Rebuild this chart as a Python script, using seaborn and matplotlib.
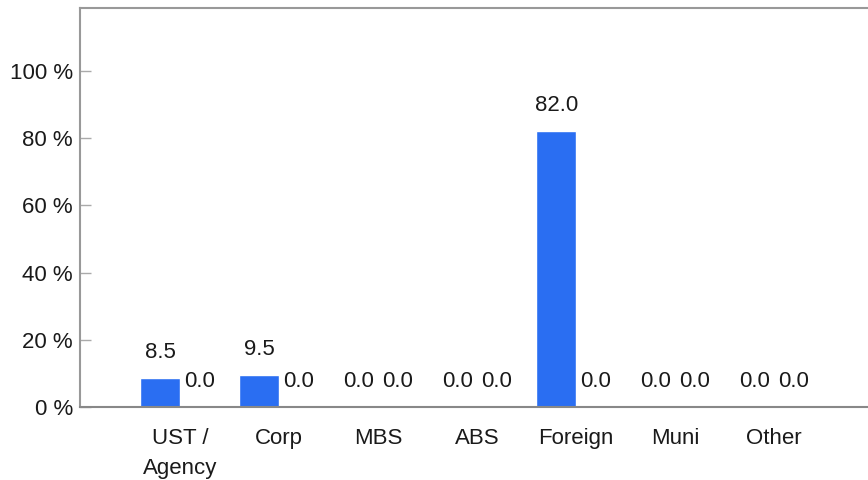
import matplotlib
matplotlib.use("Agg")
import matplotlib.pyplot as plt
import seaborn as sns
import pandas as pd

categories = ["UST /\nAgency", "Corp", "MBS", "ABS", "Foreign", "Muni", "Other"]
portfolio = [8.5, 9.5, 0.0, 0.0, 82.0, 0.0, 0.0]
benchmark = [0.0, 0.0, 0.0, 0.0, 0.0, 0.0, 0.0]
series_names = ["Portfolio", "Benchmark"]
y_ticks = [0, 20, 40, 60, 80, 100]

sns.set_theme(style="white")
plt.rcParams["font.family"] = ["Liberation Sans", "DejaVu Sans"]

FS = 16

df = pd.DataFrame({
    "category": categories * 2,
    "value": portfolio + benchmark,
    "series": [series_names[0]] * len(categories) + [series_names[1]] * len(categories),
})

fig = plt.figure(figsize=(8.68, 4.8), dpi=100)
ax = fig.add_axes([80 / 868, 1 - 407 / 480, 1 - 80 / 868, (407 - 8) / 480])

sns.barplot(data=df, x="category", y="value", hue="series", hue_order=series_names,
            order=categories, palette=["#2a6ef2", "#9aa3ad"], width=0.8,
            legend=False, ax=ax, saturation=1)

for cont in ax.containers:
    ax.bar_label(cont, fmt="%.1f", padding=11, fontsize=FS, color="#1a1a1a")

ax.set_ylim(0, 118.75)
ax.set_xlim(-1.01, 6.95)
ax.set_yticks(y_ticks)
ax.set_yticklabels([f"{t} %" for t in y_ticks], fontsize=FS, color="#1a1a1a")
ax.set_xticks(range(len(categories)))
ax.set_xticklabels(categories, fontsize=FS, color="#1a1a1a", linespacing=1.55)
ax.tick_params(axis="x", length=0, pad=15)
ax.tick_params(axis="y", direction="in", length=8, width=1, color="#aaaaaa", pad=5, left=True)
ax.set_xlabel("")
ax.set_ylabel("")

for side in ["left", "top", "bottom"]:
    ax.spines[side].set_visible(True)
    ax.spines[side].set_color("#999999")
    ax.spines[side].set_linewidth(1.5)
ax.spines["bottom"].set_color("#888888")
ax.spines["right"].set_visible(False)

fig.savefig("out.png", dpi=100)
